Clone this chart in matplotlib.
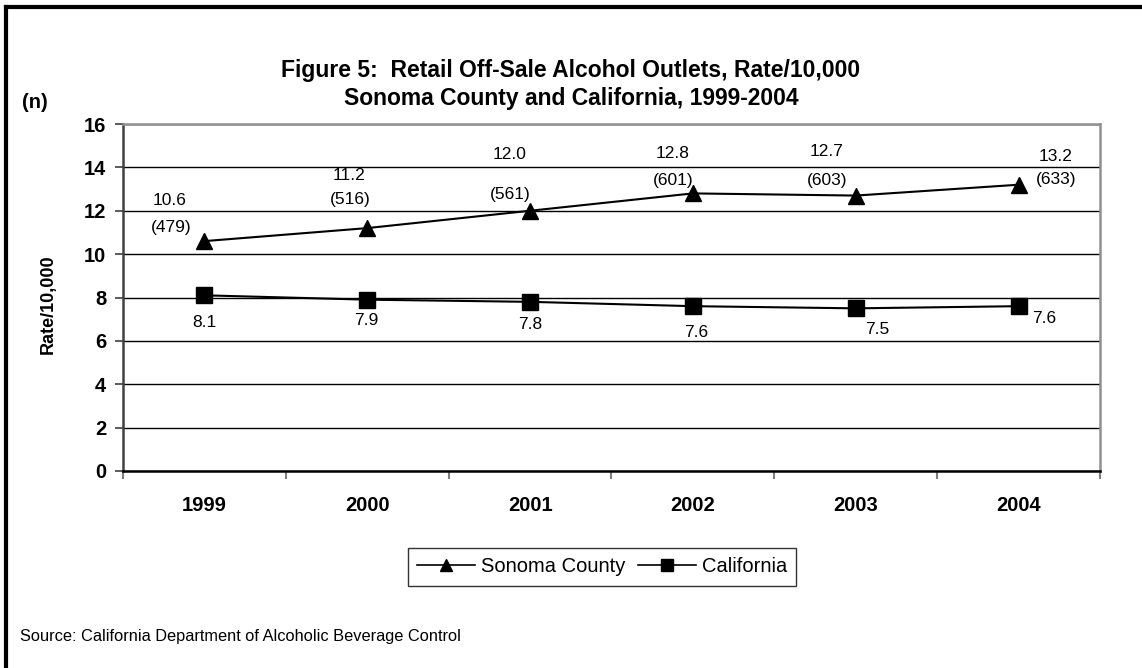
import matplotlib
matplotlib.use("Agg")
from matplotlib import pyplot as plt
from matplotlib.lines import Line2D

years = ["1999", "2000", "2001", "2002", "2003", "2004"]
sonoma_rate = [10.6, 11.2, 12.0, 12.8, 12.7, 13.2]
sonoma_n = [479, 516, 561, 601, 603, 633]
california_rate = [8.1, 7.9, 7.8, 7.6, 7.5, 7.6]

# label offsets in pixels (dx, dy) picked to look like the original
sonoma_rate_off = [(-35, 41), (-18, 53), (-21, 56), (-20, 40), (-29, 44), (37, 28)]
sonoma_n_off = [(-33, 14), (-17, 29), (-20, 16), (-20, 13), (-29, 15), (38, 5)]
california_off = [(0, -27), (-1, -21), (0, -23), (3, -26), (22, -21), (26, -12)]


def main():
    plt.rcParams["font.family"] = ["Liberation Sans", "DejaVu Sans"]

    fig = plt.figure(figsize=(11.42, 6.68), dpi=100)
    ax = fig.add_axes([123 / 1142, 1 - 471 / 668, 977 / 1142, 347 / 668])

    x = list(range(len(years)))
    ax.plot(x, sonoma_rate, color="black", lw=1.5, marker="^", ms=12,
            label="Sonoma County", zorder=4, clip_on=False)
    ax.plot(x, california_rate, color="black", lw=1.5, marker="s", ms=11,
            label="California", zorder=4, clip_on=False)

    for i in x:
        dx, dy = sonoma_rate_off[i]
        ax.annotate("{:.1f}".format(sonoma_rate[i]), (i, sonoma_rate[i]),
                    xytext=(dx, dy), textcoords="offset pixels",
                    ha="center", va="center", fontsize=12.5)
        dx, dy = sonoma_n_off[i]
        ax.annotate("({})".format(sonoma_n[i]), (i, sonoma_rate[i]),
                    xytext=(dx, dy), textcoords="offset pixels",
                    ha="center", va="center", fontsize=12.5)
        dx, dy = california_off[i]
        ax.annotate("{:.1f}".format(california_rate[i]), (i, california_rate[i]),
                    xytext=(dx, dy), textcoords="offset pixels",
                    ha="center", va="center", fontsize=12.5)

    ax.set_xlim(-0.5, len(years) - 0.5)
    ax.set_ylim(0, 16)
    ax.set_yticks(range(0, 17, 2))
    ax.set_yticklabels([str(v) for v in range(0, 17, 2)], fontsize=14.5,
                       fontweight="bold")
    ax.set_xticks(x)
    ax.set_xticklabels(years, fontsize=14.5, fontweight="bold")
    ax.set_xticks([i - 0.5 for i in range(len(years) + 1)], minor=True)
    ax.tick_params(axis="x", which="major", length=0, pad=18)
    ax.tick_params(axis="x", which="minor", length=6, width=1.5, color="#808080")
    ax.tick_params(axis="y", length=6, width=1.2, color="#404040", pad=6)

    ax.yaxis.grid(True, color="black", lw=1)
    ax.set_axisbelow(True)
    ax.spines["top"].set_color("#909090")
    ax.spines["right"].set_color("#909090")
    ax.spines["top"].set_linewidth(1.8)
    ax.spines["right"].set_linewidth(1.8)
    ax.spines["left"].set_color("#404040")
    ax.spines["left"].set_linewidth(1.8)
    ax.spines["bottom"].set_color("black")
    ax.spines["bottom"].set_linewidth(1.8)

    ax.set_ylabel("Rate/10,000", fontsize=13, fontweight="bold")
    ax.yaxis.set_label_coords(-66 / 977, 0.48)

    fig.text(0.5, 1 - 71 / 668, "Figure 5:  Retail Off-Sale Alcohol Outlets, Rate/10,000",
             ha="center", va="center", fontsize=16.5, fontweight="bold")
    fig.text(0.5, 1 - 99 / 668, "Sonoma County and California, 1999-2004",
             ha="center", va="center", fontsize=16.5, fontweight="bold")
    fig.text(22 / 1142, 1 - 103 / 668, "(n)", ha="left", va="center",
             fontsize=14.5, fontweight="bold")
    fig.text(20 / 1142, 1 - 637 / 668,
             "Source: California Department of Alcoholic Beverage Control",
             ha="left", va="center", fontsize=11.8)

    leg = ax.legend(loc="center", bbox_to_anchor=(602 / 1142, 1 - 567 / 668),
                    bbox_transform=fig.transFigure, ncol=2, fontsize=14.5,
                    frameon=True, fancybox=False, handlelength=2.9,
                    columnspacing=0.6, handletextpad=0.3, borderpad=0.45)
    leg.get_frame().set_edgecolor("black")
    leg.get_frame().set_linewidth(1)
    for h in leg.legend_handles:
        h.set_markersize(9)
        h.set_linewidth(1.2)

    # figure border (left and top edges visible)
    fig.add_artist(Line2D([6 / 1142, 6 / 1142], [0, 1 - 7 / 668],
                          transform=fig.transFigure, color="black", lw=3,
                          solid_capstyle="projecting"))
    fig.add_artist(Line2D([6 / 1142, 1], [1 - 7 / 668, 1 - 7 / 668],
                          transform=fig.transFigure, color="black", lw=3,
                          solid_capstyle="projecting"))

    fig.savefig("out.png", dpi=100)


if __name__ == "__main__":
    main()
